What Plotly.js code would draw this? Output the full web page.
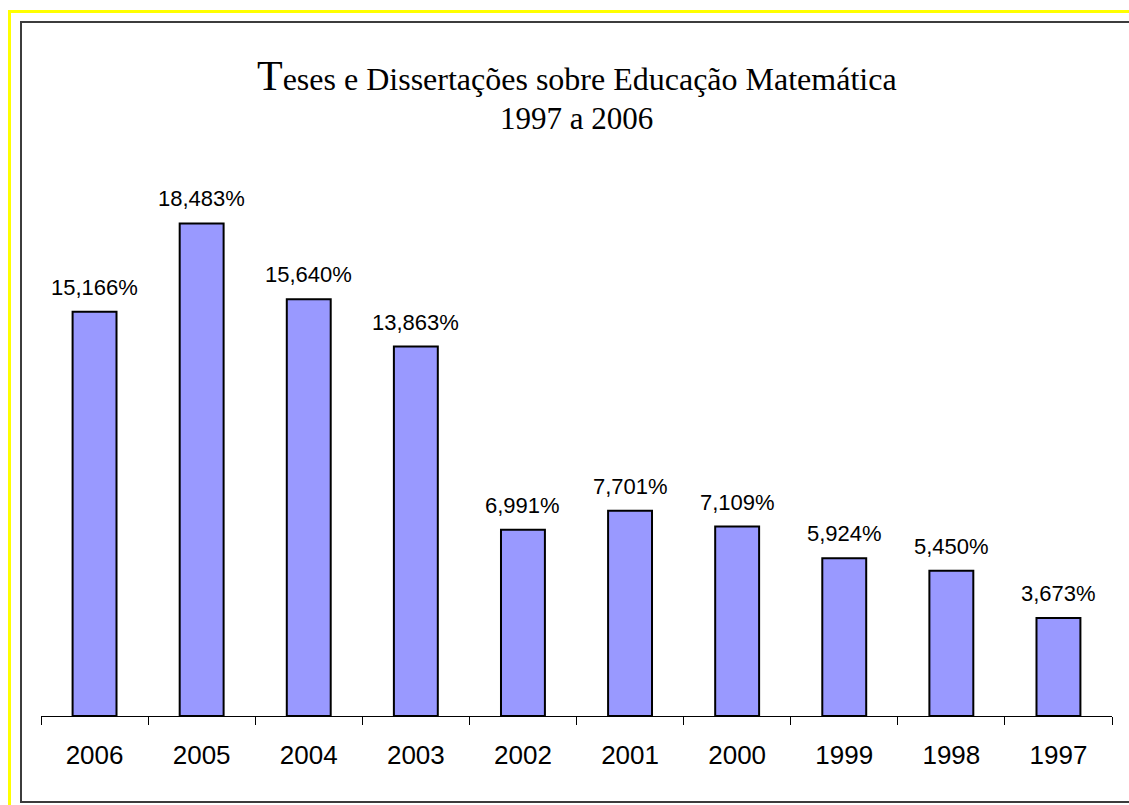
<!DOCTYPE html>
<html>
<head>
<meta charset="utf-8">
<script src="https://cdn.plot.ly/plotly-3.0.1.min.js"></script>
<style>
  html, body { margin: 0; padding: 0; background: #ffffff; }
  #wrap { position: relative; width: 1129px; height: 805px; overflow: hidden; background: #ffffff; }
  #chart { position: absolute; left: 0; top: 0; width: 1129px; height: 805px; }
  #yellow { position: absolute; left: 8px; top: 10px; width: 1200px; height: 900px;
            border-left: 3px solid #ffff00; border-top: 3px solid #ffff00; pointer-events: none; }
  #frame { position: absolute; left: 20px; top: 21px; width: 1200px; height: 778px;
           border: 2px solid #3c3c3c; pointer-events: none; }
</style>
</head>
<body>
<div id="wrap">
  <div id="chart"></div>
  <div id="yellow"></div>
  <div id="frame"></div>
</div>
<script>
const years = ["2006", "2005", "2004", "2003", "2002", "2001", "2000", "1999", "1998", "1997"];
const percentages = [15.166, 18.483, 15.640, 13.863, 6.991, 7.701, 7.109, 5.924, 5.450, 3.673];
const titleLine1 = '<span style="font-size:42px">T</span>eses e Dissertações sobre Educação Matemática';
const titleLine2 = '1997 a 2006';

function fmt(v) { return v.toFixed(3).replace('.', ',') + '%'; }

const trace = {
  type: 'bar',
  x: years,
  y: percentages,
  width: 0.41,
  marker: { color: '#9999ff', line: { color: '#000000', width: 2 } },
  hoverinfo: 'none'
};

const labelAnnotations = years.map((yr, i) => ({
  x: i, y: percentages[i], xref: 'x', yref: 'y',
  text: fmt(percentages[i]), showarrow: false,
  yanchor: 'bottom', xanchor: 'center', yshift: 10,
  font: { family: 'Liberation Sans, Arial, sans-serif', size: 22, color: '#000000' }
}));

const titleAnnotations = [
  { xref: 'paper', yref: 'paper', x: 0.5, y: (716 - 76) / 533, xanchor: 'center', yanchor: 'middle',
    text: titleLine1, showarrow: false,
    font: { family: 'Liberation Serif, Times New Roman, serif', size: 32, color: '#000000' } },
  { xref: 'paper', yref: 'paper', x: 0.5, y: (716 - 119) / 533, xanchor: 'center', yanchor: 'middle',
    text: titleLine2, showarrow: false,
    font: { family: 'Liberation Serif, Times New Roman, serif', size: 31, color: '#000000' } }
];

const layout = {
  width: 1129, height: 805,
  margin: { l: 41, r: 17, t: 183, b: 89, pad: 0 },
  paper_bgcolor: 'rgba(0,0,0,0)',
  plot_bgcolor: 'rgba(0,0,0,0)',
  showlegend: false,
  xaxis: {
    type: 'category',
    categoryorder: 'array', categoryarray: years,
    range: [-0.5, years.length - 0.5],
    showline: true, linecolor: '#000000', linewidth: 1,
    ticks: 'outside', tickson: 'boundaries', ticklen: 8, tickcolor: '#000000', tickwidth: 1,
    ticklabelstandoff: 16,
    tickfont: { family: 'Liberation Sans, Arial, sans-serif', size: 26, color: '#000000' },
    showgrid: false, zeroline: false, fixedrange: true
  },
  yaxis: {
    range: [0, 20], visible: false, showgrid: false, zeroline: false, fixedrange: true
  },
  annotations: labelAnnotations.concat(titleAnnotations)
};

Plotly.newPlot('chart', [trace], layout, { staticPlot: true, displayModeBar: false });
</script>
</body>
</html>
